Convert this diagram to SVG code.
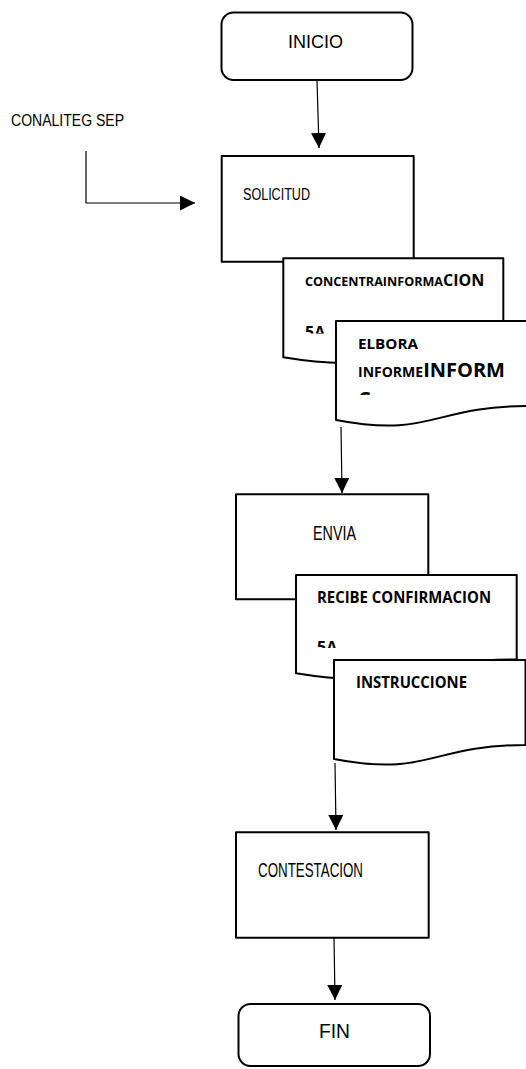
<svg xmlns="http://www.w3.org/2000/svg" width="526" height="1069" viewBox="0 0 526 1069">
<style>
.shape{fill:#fff;stroke:#000;stroke-width:2;stroke-linejoin:round}
.conn{fill:none;stroke:#000;stroke-width:1.2}
.t{font-family:"Liberation Sans",Arial,sans-serif;fill:#000}
.b{font-family:"Open Sans","Liberation Sans",sans-serif;font-weight:700;fill:#000}
</style>
<defs>
<marker id="ah" markerUnits="userSpaceOnUse" markerWidth="15" markerHeight="15" refX="15" refY="7.5" orient="auto">
<path d="M0,0 L15,7.5 L0,15 Z" fill="#000"/>
</marker>
<clipPath id="c1"><rect x="290" y="300" width="100" height="33.5"/></clipPath>
<clipPath id="c2"><rect x="350" y="380" width="100" height="15"/></clipPath>
<clipPath id="c3"><rect x="300" y="620" width="100" height="28"/></clipPath>
</defs>
<g id="connectors">
<path class="conn" d="M317,80 L319,148" marker-end="url(#ah)"/>
<path class="conn" d="M86,151 V203 H195" marker-end="url(#ah)"/>
<path class="conn" d="M341,427 L342,493" marker-end="url(#ah)"/>
<path class="conn" d="M335,763 L336,830" marker-end="url(#ah)"/>
<path class="conn" d="M334,938 L335,1000" marker-end="url(#ah)"/>
</g>
<g id="inicio">
<rect class="shape" x="221.5" y="12.5" width="191" height="67.5" rx="12"/>
<text class="t" x="288" y="48" font-size="19" textLength="55" lengthAdjust="spacingAndGlyphs">INICIO</text>
</g>
<g id="conaliteg">
<text class="t" x="11" y="126" font-size="17" textLength="113" lengthAdjust="spacingAndGlyphs">CONALITEG SEP</text>
</g>
<g id="solicitud">
<rect class="shape" x="221.7" y="156" width="192" height="105.7"/>
<text class="t" x="243" y="200" font-size="16" textLength="67" lengthAdjust="spacingAndGlyphs">SOLICITUD</text>
</g>
<g id="concentra">
<path class="shape" d="M283.3,258.3 H503.3 V343.3 C393.3,343.3 393.3,375.6 283.3,357.3 Z"/>
<text class="b" x="305" y="286"><tspan font-size="13" textLength="138" lengthAdjust="spacingAndGlyphs">CONCENTRAINFORMA</tspan><tspan font-size="16">CION</tspan></text>
<text class="b" x="305" y="337.5" font-size="16" clip-path="url(#c1)">5A</text>
</g>
<g id="elbora">
<path class="shape" d="M336,321 H528 V406 C432,406 432,438.3 336,420 Z"/>
<text class="b" x="358" y="348.5" font-size="15" textLength="60" lengthAdjust="spacingAndGlyphs">ELBORA</text>
<text class="b" x="358" y="377"><tspan font-size="14">INFORME</tspan><tspan font-size="20">INFORM</tspan></text>
<text class="b" x="358" y="406" font-size="20" clip-path="url(#c2)">C</text>
</g>
<g id="envia">
<rect class="shape" x="236" y="494.3" width="192.3" height="105"/>
<text class="t" x="313" y="540" font-size="20" textLength="43" lengthAdjust="spacingAndGlyphs">ENVIA</text>
</g>
<g id="recibe">
<path class="shape" d="M296,575 H516.7 V659.5 C406.3,659.5 406.3,691.5 296,673.3 Z"/>
<text class="b" x="317" y="602.5" font-size="16" textLength="174" lengthAdjust="spacingAndGlyphs">RECIBE CONFIRMACION</text>
<text class="b" x="317" y="652.5" font-size="16" clip-path="url(#c3)">5A</text>
</g>
<g id="instrucciones">
<path class="shape" d="M334,660 H525.5 V745 C429.7,745 429.7,777.3 334,759 Z"/>
<text class="b" x="356" y="688" font-size="16" textLength="111" lengthAdjust="spacingAndGlyphs">INSTRUCCIONE</text>
</g>
<g id="contestacion">
<rect class="shape" x="236" y="832.3" width="192.7" height="105.4"/>
<text class="t" x="258" y="877" font-size="20" textLength="105" lengthAdjust="spacingAndGlyphs">CONTESTACION</text>
</g>
<g id="fin">
<rect class="shape" x="238.5" y="1004" width="191.5" height="62" rx="12"/>
<text class="t" x="319" y="1038" font-size="20" textLength="31" lengthAdjust="spacingAndGlyphs">FIN</text>
</g>
</svg>
